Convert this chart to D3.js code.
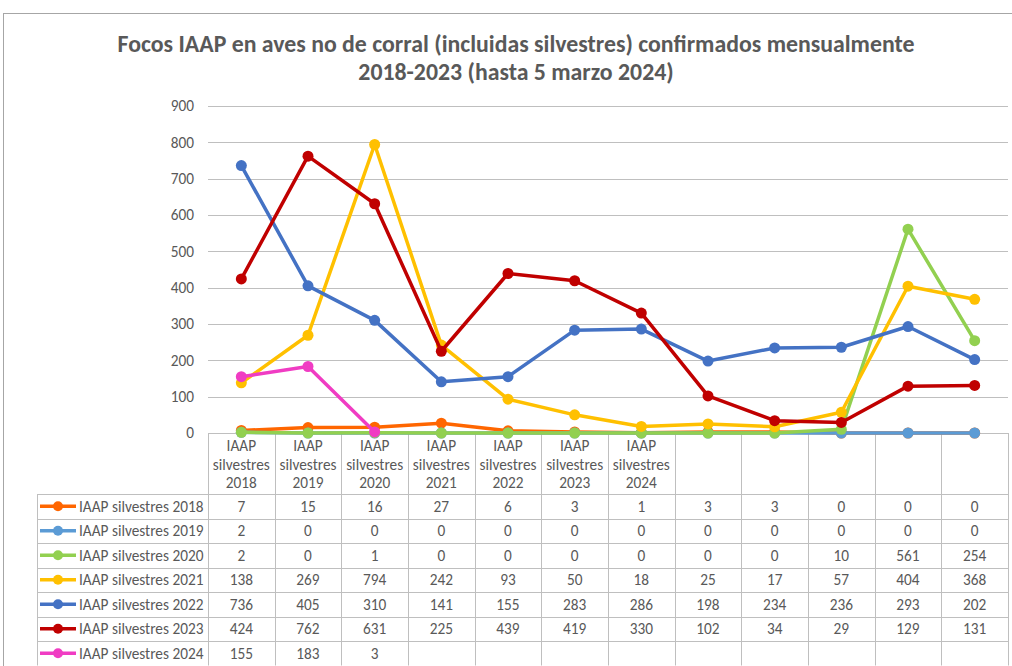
<!DOCTYPE html>
<html>
<head>
<meta charset="utf-8">
<script src="https://cdn.jsdelivr.net/npm/d3@7"></script>
<style>
  body { margin: 0; background: #fff; }
  svg { display: block; font-family: Carlito, "Liberation Sans", Arial, sans-serif; }
</style>
</head>
<body>
<div id="chart"></div>
<script>
// categories (only the first seven carry a label)
const categories = d3.range(12);
const catLabels = ['IAAP silvestres 2018', 'IAAP silvestres 2019', 'IAAP silvestres 2020',
  'IAAP silvestres 2021', 'IAAP silvestres 2022', 'IAAP silvestres 2023', 'IAAP silvestres 2024',
  '', '', '', '', ''];
const seriesNames = ['IAAP silvestres 2018', 'IAAP silvestres 2019', 'IAAP silvestres 2020',
  'IAAP silvestres 2021', 'IAAP silvestres 2022', 'IAAP silvestres 2023', 'IAAP silvestres 2024'];
const s2018 = [7, 15, 16, 27, 6, 3, 1, 3, 3, 0, 0, 0];
const s2019 = [2, 0, 0, 0, 0, 0, 0, 0, 0, 0, 0, 0];
const s2020 = [2, 0, 1, 0, 0, 0, 0, 0, 0, 10, 561, 254];
const s2021 = [138, 269, 794, 242, 93, 50, 18, 25, 17, 57, 404, 368];
const s2022 = [736, 405, 310, 141, 155, 283, 286, 198, 234, 236, 293, 202];
const s2023 = [424, 762, 631, 225, 439, 419, 330, 102, 34, 29, 129, 131];
const s2024 = [155, 183, 3];
const seriesColors = ['#FF6600', '#5B9BD5', '#92D050', '#FFC000', '#4472C4', '#C00000', '#F03CC3'];
const yTicks = [0, 100, 200, 300, 400, 500, 600, 700, 800, 900];

const seriesValues = [s2018, s2019, s2020, s2021, s2022, s2023, s2024];
const series = seriesNames.map((name, i) => ({ name, values: seriesValues[i], color: seriesColors[i] }));

const W = 1012, H = 666;
const plot = { left: 208, right: 1008, top: 106, bottom: 433 };
const headerBottom = 494;
const rowH = 24.5;
const legendLeft = 37;
const textColor = '#595959';
const lineColor = '#BFBFBF';
const fontSize = 15.3;

const svg = d3.select('#chart').append('svg')
  .attr('width', W)
  .attr('height', H);

// chart border
svg.append('rect')
  .attr('x', 3.5).attr('y', 13.5)
  .attr('width', W + 10).attr('height', H + 10)
  .attr('fill', 'none').attr('stroke', '#A6A6A6');

// title
const title = svg.append('text')
  .attr('text-anchor', 'middle')
  .attr('fill', textColor)
  .attr('font-weight', 'bold')
  .attr('font-size', 23.8);
title.append('tspan').attr('x', 516).attr('y', 52)
  .text('Focos IAAP en aves no de corral (incluidas silvestres) confirmados mensualmente');
title.append('tspan').attr('x', 516).attr('y', 80)
  .text('2018-2023 (hasta 5 marzo 2024)');

// scales
const x = d3.scaleBand()
  .domain(categories)
  .range([plot.left, plot.right]);

const y = d3.scaleLinear()
  .domain([0, 900])
  .range([plot.bottom, plot.top]);

// gridlines
svg.append('g')
  .selectAll('line')
  .data(yTicks)
  .join('line')
  .attr('x1', plot.left).attr('x2', plot.right)
  .attr('y1', d => Math.round(y(d)) + 0.5).attr('y2', d => Math.round(y(d)) + 0.5)
  .attr('stroke', lineColor);

// y axis
const yAxis = svg.append('g')
  .attr('transform', `translate(${plot.left},0)`)
  .call(d3.axisLeft(y).tickValues(yTicks).tickSize(0).tickPadding(14));
yAxis.select('.domain').remove();
yAxis.selectAll('text')
  .attr('fill', textColor)
  .attr('font-size', fontSize)
  .attr('font-family', 'Carlito, "Liberation Sans", Arial, sans-serif');

// table grid
const grid = svg.append('g').attr('stroke', lineColor).attr('fill', 'none');
const nRows = series.length;
const tableBottom = headerBottom + nRows * rowH;

// vertical lines at category edges
const edges = categories.map(c => x(c)).concat([plot.right]);
grid.selectAll('line.v')
  .data(edges)
  .join('line')
  .attr('class', 'v')
  .attr('x1', d => Math.round(d) + 0.5).attr('x2', d => Math.round(d) + 0.5)
  .attr('y1', plot.bottom).attr('y2', tableBottom);

// legend column left edge
grid.append('line')
  .attr('x1', legendLeft + 0.5).attr('x2', legendLeft + 0.5)
  .attr('y1', headerBottom).attr('y2', tableBottom);

// horizontal row lines
const rowLines = d3.range(nRows + 1).map(i => headerBottom + i * rowH);
grid.selectAll('line.h')
  .data(rowLines)
  .join('line')
  .attr('class', 'h')
  .attr('x1', legendLeft).attr('x2', plot.right)
  .attr('y1', d => Math.round(d) + 0.5).attr('y2', d => Math.round(d) + 0.5);

// bottom axis line of plot
grid.append('line')
  .attr('x1', plot.left).attr('x2', plot.right)
  .attr('y1', plot.bottom + 0.5).attr('y2', plot.bottom + 0.5);

// category header labels
const header = svg.append('g')
  .attr('fill', textColor)
  .attr('font-size', fontSize)
  .attr('text-anchor', 'middle');
categories.forEach(c => {
  const label = catLabels[c];
  if (!label) return;
  const parts = label.split(' ');
  const t = header.append('text');
  parts.forEach((p, i) => {
    t.append('tspan')
      .attr('x', x(c) + x.bandwidth() / 2)
      .attr('y', 451 + i * 18.5)
      .text(p);
  });
});

// table rows
const rows = svg.append('g').attr('font-size', fontSize).attr('fill', textColor);
series.forEach((s, i) => {
  const cy = headerBottom + i * rowH + rowH / 2;
  rows.append('line')
    .attr('x1', 40).attr('x2', 76)
    .attr('y1', cy).attr('y2', cy)
    .attr('stroke', s.color).attr('stroke-width', 3.5);
  rows.append('circle')
    .attr('cx', 58).attr('cy', cy).attr('r', 5)
    .attr('fill', s.color);
  rows.append('text')
    .attr('x', 79).attr('y', cy).attr('dy', '0.35em')
    .text(s.name);
  rows.selectAll(null)
    .data(s.values)
    .join('text')
    .attr('x', (d, j) => x(categories[j]) + x.bandwidth() / 2)
    .attr('y', cy).attr('dy', '0.35em')
    .attr('text-anchor', 'middle')
    .text(d => d);
});

// lines and markers
const line = d3.line()
  .x((d, j) => x(categories[j]) + x.bandwidth() / 2)
  .y(d => y(d));

const marks = svg.append('g');
series.forEach(s => {
  const g = marks.append('g');
  g.append('path')
    .datum(s.values)
    .attr('d', line)
    .attr('fill', 'none')
    .attr('stroke', s.color)
    .attr('stroke-width', 3.5)
    .attr('stroke-linejoin', 'round');
  g.selectAll('circle')
    .data(s.values)
    .join('circle')
    .attr('cx', (d, j) => x(categories[j]) + x.bandwidth() / 2)
    .attr('cy', d => y(d))
    .attr('r', 5.5)
    .attr('fill', s.color);
});
</script>
</body>
</html>
